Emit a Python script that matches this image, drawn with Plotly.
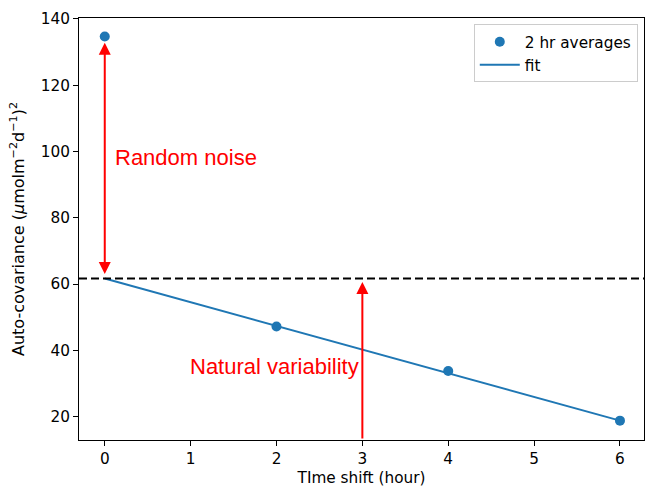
import plotly.graph_objects as go

# Data
shift_hours = [0, 2, 4, 6]
autocov_2hr = [134.7, 47.2, 33.8, 18.8]
fit_x = [0, 6]
fit_y = [61.7, 18.8]
noise_floor = 61.7
x_ticks = [0, 1, 2, 3, 4, 5, 6]
y_ticks = [20, 40, 60, 80, 100, 120, 140]

BLUE = "#1f77b4"
RED = "#ff0000"
TICKFONT = dict(family="DejaVu Sans", size=15.3, color="black")
ANNFONT = dict(family="Liberation Sans, Arial", size=22, color=RED)

fig = go.Figure()
fig.add_trace(go.Scatter(x=shift_hours, y=autocov_2hr, mode="markers",
                         marker=dict(color=BLUE, size=10), name="2 hr averages"))
fig.add_trace(go.Scatter(x=fit_x, y=fit_y, mode="lines",
                         line=dict(color=BLUE, width=2), name="fit"))

# dashed horizontal line at the noise floor
fig.add_shape(type="line", xref="paper", x0=0, x1=1, yref="y",
              y0=noise_floor, y1=noise_floor,
              line=dict(color="black", width=2, dash="8px,4px"))

# double-headed arrow at x=0
fig.add_annotation(x=0, y=132.8, ax=0, ay=62.6, xref="x", yref="y",
                   axref="x", ayref="y", showarrow=True, arrowhead=2,
                   startarrowhead=2, arrowside="end+start", arrowsize=1.2,
                   startarrowsize=1.2,
                   arrowwidth=2, arrowcolor=RED, text="")
# arrow at x=3 from bottom to noise floor
fig.add_annotation(x=3, y=60.6, ax=3, ay=12.96, xref="x", yref="y",
                   axref="x", ayref="y", showarrow=True, arrowhead=2,
                   arrowsize=1.2, arrowwidth=2, arrowcolor=RED, text="")

fig.add_annotation(x=0.1, y=98.1, xref="x", yref="y", text="Random noise",
                   showarrow=False, xanchor="left", yanchor="middle", font=ANNFONT)
fig.add_annotation(x=0.97, y=35.0, xref="x", yref="y", text="Natural variability",
                   showarrow=False, xanchor="left", yanchor="middle", font=ANNFONT)

axis_common = dict(showgrid=False, zeroline=False, showline=True, linecolor="black",
                   linewidth=1, mirror=True, ticks="outside", ticklen=5,
                   tickcolor="black", tickwidth=1, tickfont=TICKFONT)

fig.update_xaxes(range=[-0.3, 6.28], tickvals=x_ticks,
                 title=dict(text="TIme shift (hour)", font=TICKFONT, standoff=5),
                 **axis_common)
fig.update_yaxes(range=[12.96, 140.3], tickvals=y_ticks,
                 title=dict(text="Auto-covariance (<i>μ</i>molm<sup>−2</sup>d<sup>−1</sup>)<sup>2</sup>",
                            font=dict(family="DejaVu Sans", size=16, color="black"),
                            standoff=12),
                 **axis_common)

fig.update_layout(
    width=645, height=487,
    margin=dict(l=79, r=1, t=18, b=47, autoexpand=False),
    plot_bgcolor="white", paper_bgcolor="white",
    font=TICKFONT,
    legend=dict(x=0.989, y=0.985, xanchor="right", yanchor="top",
                bgcolor="white", bordercolor="#cccccc", borderwidth=1,
                font=TICKFONT, itemwidth=40, tracegroupgap=0),
    showlegend=True,
)

fig.write_html("out.html", config={"displayModeBar": False},
               post_script="document.body.style.margin='0';document.body.style.overflow='hidden';")
